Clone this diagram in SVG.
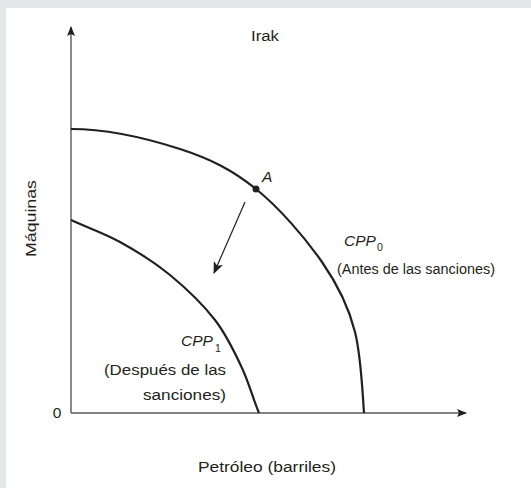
<svg xmlns="http://www.w3.org/2000/svg" width="531" height="488" viewBox="0 0 531 488">
<defs>
<style>
text{font-family:"Liberation Sans","DejaVu Sans",sans-serif;fill:#231f20;font-size:15.5px}
.ax{stroke:#58585a;stroke-width:1.4;fill:none}
.ppf{stroke:#231f20;stroke-width:2.2;fill:none}
.shift{stroke:#231f20;stroke-width:1.2;fill:none}
.it{font-style:italic}
.sub{font-size:10.5px;font-style:normal}
</style>
<marker id="ah" viewBox="0 0 10 8" refX="9" refY="4" markerWidth="10" markerHeight="8" markerUnits="userSpaceOnUse" orient="auto">
<path d="M0,0 L10,4 L0,8 L2,4 Z" fill="#231f20"/>
</marker>
<marker id="ah2" viewBox="0 0 12 10" refX="11" refY="5" markerWidth="12" markerHeight="10" markerUnits="userSpaceOnUse" orient="auto">
<path d="M0,0 L12,5 L0,10 L3,5 Z" fill="#231f20"/>
</marker>
</defs>
<rect width="531" height="488" fill="#e6e7e8"/>
<rect x="6" y="8" width="525" height="480" fill="#ffffff"/>
<g id="connectors">
<line class="ax" x1="71" y1="413" x2="71" y2="27" marker-end="url(#ah)"/>
<line class="ax" x1="71" y1="413" x2="466" y2="413" marker-end="url(#ah)"/>
<line class="shift" x1="245" y1="202" x2="214" y2="273" marker-end="url(#ah2)"/>
</g>
<g id="ppf0">
<path class="ppf" d="M71,129 C107,129 149,139 180,149 C211,159 232.7,170.2 256,189 C279.3,207.8 305,237.5 322,262 C339,286.5 349,308 355,332 C361,356 362,385 364,413"/>
<text x="344" y="246" class="it">CPP<tspan class="sub" dx="1" dy="5">0</tspan></text>
<text x="337" y="274" textLength="158" lengthAdjust="spacingAndGlyphs">(Antes de las sanciones)</text>
</g>
<g id="ppf1">
<path class="ppf" d="M71,220 C86.7,227.3 103.3,232.8 120,242 C136.7,251.2 154.2,262 170,275 C185.8,288 203,304.5 215,320 C227,335.5 234.8,352.5 242,368 C249.2,383.5 252.7,398 259,413"/>
<text x="181" y="346" class="it">CPP</text>
<text x="215" y="352" class="sub">1</text>
<text x="104" y="375" textLength="122" lengthAdjust="spacingAndGlyphs">(Después de las</text>
<text x="143" y="400" textLength="83" lengthAdjust="spacingAndGlyphs">sanciones)</text>
</g>
<g id="pointA">
<circle cx="256" cy="189" r="3.5" fill="#231f20"/>
<text x="262" y="182" class="it">A</text>
</g>
<g id="labels">
<text x="251" y="41" textLength="28" lengthAdjust="spacingAndGlyphs">Irak</text>
<text x="57" y="418" text-anchor="middle">0</text>
<text x="198" y="472" textLength="138" lengthAdjust="spacingAndGlyphs">Petróleo (barriles)</text>
<text transform="translate(36,257) rotate(-90)" textLength="77" lengthAdjust="spacingAndGlyphs">Máquinas</text>
</g>
</svg>
